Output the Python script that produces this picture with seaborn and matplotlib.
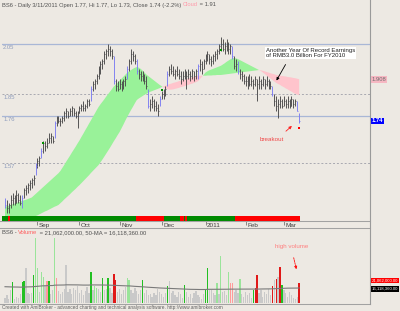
import numpy as np
import pandas as pd
import matplotlib
matplotlib.use("Agg")
import matplotlib.pyplot as plt
import seaborn as sns
from matplotlib.lines import Line2D

# ---------------- data ----------------
dates = pd.bdate_range("2010-08-09", "2011-03-11")  # 155 sessions

highs = [
1.43,1.42,1.41,1.44,1.45,1.44,1.46,1.45,1.44,1.44,
1.47,1.48,1.49,1.50,1.51,1.52,1.57,1.59,1.60,1.63,
1.66,1.66,1.67,1.69,1.69,1.68,1.74,1.76,1.76,1.75,
1.76,1.78,1.79,1.78,1.79,1.80,1.79,1.78,1.78,1.80,
1.81,1.82,1.81,1.83,1.83,1.88,1.90,1.91,1.93,1.96,
1.98,1.99,2.02,2.03,2.05,2.04,2.03,2.00,1.91,1.90,
1.91,1.90,1.91,1.92,1.96,1.99,2.03,2.02,2.01,1.99,
1.95,1.94,1.94,1.93,1.92,1.87,1.83,1.84,1.83,1.82,
1.81,1.84,1.86,1.87,1.88,1.94,1.96,1.97,1.96,1.95,
1.96,1.95,1.94,1.94,1.95,1.94,1.95,1.94,1.95,1.94,
1.95,1.97,1.99,1.98,1.99,2.01,2.02,2.01,2.00,2.01,
2.02,2.03,2.05,2.08,2.07,2.06,2.07,2.06,2.05,2.04,
2.00,1.99,1.98,1.95,1.94,1.93,1.92,1.92,1.93,1.92,
1.91,1.92,1.91,1.92,1.91,1.92,1.91,1.92,1.91,1.90,
1.88,1.85,1.84,1.83,1.84,1.83,1.84,1.83,1.84,1.83,
1.84,1.83,1.83,1.82,1.77]
lows = [
1.39,1.37,1.37,1.39,1.40,1.40,1.41,1.41,1.40,1.39,
1.43,1.44,1.45,1.46,1.47,1.48,1.52,1.55,1.56,1.59,
1.61,1.62,1.63,1.65,1.65,1.65,1.67,1.72,1.73,1.72,
1.73,1.74,1.75,1.75,1.76,1.76,1.76,1.75,1.71,1.77,
1.78,1.78,1.78,1.79,1.80,1.82,1.86,1.87,1.89,1.91,
1.93,1.95,1.97,1.99,2.00,2.00,1.99,1.89,1.86,1.86,
1.87,1.86,1.87,1.88,1.91,1.94,1.97,1.98,1.97,1.93,
1.91,1.90,1.90,1.89,1.87,1.79,1.78,1.79,1.78,1.78,
1.76,1.80,1.83,1.83,1.84,1.88,1.92,1.93,1.92,1.91,
1.92,1.91,1.89,1.90,1.91,1.87,1.91,1.90,1.91,1.90,
1.91,1.91,1.94,1.93,1.95,1.97,1.98,1.97,1.96,1.97,
1.98,1.99,2.01,2.02,2.02,2.01,2.02,2.01,2.01,1.99,
1.95,1.94,1.93,1.91,1.90,1.89,1.88,1.87,1.88,1.88,
1.87,1.88,1.82,1.87,1.87,1.88,1.87,1.88,1.87,1.87,
1.84,1.80,1.78,1.75,1.79,1.79,1.80,1.79,1.79,1.79,
1.80,1.79,1.80,1.78,1.73]
closes = [
1.40,1.39,1.40,1.42,1.43,1.41,1.44,1.42,1.41,1.43,
1.46,1.47,1.48,1.49,1.50,1.51,1.56,1.58,1.59,1.62,
1.65,1.64,1.65,1.67,1.68,1.66,1.73,1.75,1.74,1.74,
1.75,1.77,1.78,1.76,1.78,1.79,1.77,1.76,1.77,1.79,
1.80,1.79,1.80,1.82,1.81,1.87,1.89,1.90,1.92,1.95,
1.97,1.98,2.01,2.02,2.03,2.02,2.00,1.90,1.88,1.87,
1.89,1.88,1.90,1.91,1.95,1.98,2.01,2.00,1.98,1.94,
1.93,1.92,1.91,1.90,1.88,1.80,1.81,1.82,1.80,1.79,
1.78,1.83,1.85,1.86,1.87,1.93,1.95,1.94,1.93,1.94,
1.93,1.92,1.91,1.92,1.93,1.92,1.93,1.92,1.94,1.92,
1.94,1.96,1.97,1.95,1.98,2.00,2.01,1.99,1.98,2.00,
2.01,2.02,2.04,2.05,2.03,2.04,2.05,2.03,2.04,2.00,
1.96,1.97,1.94,1.93,1.92,1.90,1.90,1.91,1.89,1.90,
1.89,1.91,1.89,1.90,1.89,1.91,1.89,1.90,1.89,1.88,
1.85,1.82,1.80,1.81,1.82,1.80,1.82,1.81,1.82,1.80,
1.83,1.81,1.82,1.78,1.74]
blue_bars = [0, 9, 16, 19, 26, 45, 57, 64, 69, 75, 81, 85, 101, 119, 122, 140, 153, 154]

cloud_fast = [
1.393,1.396,1.398,1.401,1.404,1.406,1.409,1.412,1.414,1.417,1.420,1.422,1.425,1.428,1.431,
1.438,1.445,1.452,1.459,1.466,1.473,1.480,1.487,1.494,1.501,1.508,1.515,1.522,1.529,
1.538,1.550,1.562,1.575,1.587,1.599,1.612,1.624,1.636,1.649,1.661,
1.675,1.688,1.702,1.715,1.729,1.742,1.756,1.769,1.783,1.796,
1.807,1.817,1.827,1.838,1.848,1.858,1.868,1.879,
1.886,1.894,1.902,1.910,1.918,1.926,1.934,
1.940,1.945,1.950,1.954,1.957,
1.955,1.950,1.943,1.935,1.927,
1.921,1.915,1.909,1.903,1.897,1.891,1.885,
1.880,1.875,1.871,1.868,
1.866,1.866,1.867,1.869,1.871,1.873,1.876,1.878,1.880,1.883,1.885,1.888,1.890,1.893,1.896,1.900,
1.908,1.917,1.926,1.935,
1.940,1.944,1.947,1.950,1.953,1.956,1.959,1.962,
1.967,1.972,1.978,1.983,1.988,1.992,
1.993,1.992,1.989,1.985,1.981,1.977,
1.973,1.969,1.965,1.961,1.957,1.953,1.949,1.945,1.941,
1.935,1.929,1.923,1.917,1.911,1.905,1.899,1.893,
1.889,1.885,1.880,1.876,1.871,1.867,1.862,1.858,1.853,1.849,1.846,1.844]
cloud_slow = [
1.330,1.331,1.333,1.334,1.335,1.336,1.338,1.339,1.340,1.341,1.343,1.344,1.345,1.346,1.348,
1.352,1.356,1.359,1.363,1.367,1.371,1.375,1.378,1.382,1.386,1.390,1.394,1.397,1.401,
1.408,1.415,1.423,1.430,1.437,1.444,1.452,1.459,1.466,1.474,1.481,
1.489,1.497,1.505,1.513,1.521,1.530,1.538,1.546,1.554,1.562,
1.573,1.584,1.596,1.608,1.620,1.632,
1.645,1.658,1.670,1.683,1.695,
1.710,1.725,1.741,1.756,
1.770,1.784,1.797,1.811,1.824,
1.830,1.835,1.840,1.845,1.849,1.853,1.857,
1.860,1.863,1.866,1.869,1.872,
1.876,1.879,1.882,1.885,
1.888,1.890,1.893,1.895,1.897,1.900,1.902,1.904,1.906,1.909,1.911,1.913,1.915,1.918,1.920,1.922,
1.922,1.922,1.922,1.922,1.923,1.923,1.923,1.924,1.924,1.925,1.925,1.925,
1.926,1.927,1.928,1.929,1.930,1.931,1.932,1.933,1.934,1.935,1.936,1.937,1.938,1.939,1.940,1.941,1.942,1.943,1.944,1.945,
1.944,1.942,1.940,1.937,1.935,1.932,1.930,1.928,1.925,
1.924,1.923,1.921,1.920,1.919,1.917,1.916,1.915,1.913,1.912,1.910,1.908]

# trend ribbon: (state, number of bars)
ribbon_runs = [("G", 2), ("R", 1), ("G", 66), ("R", 15), ("G", 8), ("R", 2),
               ("G", 1), ("R", 1), ("G", 25), ("R", 34)]

green_dot_idx = [20, 82, 113]
green_dot_val = [1.650, 1.865, 2.025]
red_dot_idx = [154]
red_dot_val = [1.711]

volume_m = [
5.5,7.8,4.4,14.4,22.2,4.4,6.6,5.5,8.9,22.2,
23.3,37.7,10.0,8.9,10.0,31.0,72.0,37.7,11.1,34.3,
28.8,18.8,23.3,23.3,8.9,13.3,72.0,27.7,12.2,8.9,
11.1,15.5,41.0,11.1,15.5,8.9,16.6,13.3,18.8,10.0,
14.4,7.8,12.2,17.7,10.0,34.3,13.3,18.8,16.6,15.5,
11.1,26.6,13.3,15.5,26.6,16.6,10.0,32.1,24.4,11.1,
15.5,8.9,13.3,17.7,27.7,24.4,13.3,10.0,16.6,12.2,
8.9,14.4,24.4,10.0,13.3,7.8,8.9,6.6,10.0,7.8,
15.5,11.1,8.9,6.6,10.0,18.8,23.3,10.0,12.2,7.8,
6.6,11.1,8.9,5.5,19.9,11.1,6.6,8.9,5.5,10.0,
12.2,7.8,6.6,4.4,8.9,14.4,37.7,13.3,13.3,10.0,
7.8,21.1,8.9,51.0,11.1,12.2,7.8,34.3,21.1,21.1,
11.1,13.3,10.0,25.5,8.9,6.6,11.1,7.8,10.0,5.5,
14.4,16.6,31.0,10.0,13.3,6.6,11.1,8.9,15.5,7.8,
18.8,24.4,25.5,28.8,38.8,19.9,13.3,10.0,6.6,11.1,
7.8,5.5,4.4,6.6,21.062]
vol_green = [4, 9, 10, 15, 23, 45, 51, 54, 72, 85, 94, 105, 106, 130, 145]
vol_lightgreen = [16, 17, 19, 20, 26, 47, 48, 64, 65, 111, 113, 117, 123]
vol_lightred = [22, 27, 118, 119]
vol_red = [57, 58, 131, 132, 140, 142, 144, 154]

vol_ma50 = [
17.5,17.4,17.3,17.3,17.2,17.2,17.1,17.1,17.0,17.1,17.2,17.3,17.3,17.3,17.4,17.6,17.9,18.1,18.2,18.4,18.5,18.6,18.7,18.8,18.8,18.8,19.2,19.3,
19.3,19.3,19.4,19.4,19.6,19.6,19.6,19.5,19.5,19.5,19.5,19.4,19.4,19.3,19.3,19.3,19.3,19.5,19.5,19.5,19.5,19.4,19.4,19.4,19.3,19.3,19.3,19.2,19.1,19.0,19.0,18.9,18.8,
18.6,18.5,18.4,18.4,18.4,18.2,18.1,17.9,17.8,17.6,17.5,17.4,17.2,17.0,16.9,16.8,
16.6,16.5,16.4,16.2,16.1,16.0,15.9,15.8,15.7,15.6,15.5,15.3,15.2,15.1,15.0,14.9,14.8,
14.8,14.7,14.7,14.6,14.6,14.5,14.5,14.4,14.4,14.4,14.3,14.4,14.6,14.6,14.5,14.5,14.5,14.6,14.6,14.7,14.7,14.6,14.7,14.8,14.8,14.8,14.7,14.7,14.7,14.8,14.8,14.7,14.7,14.7,14.7,14.8,14.8,14.9,14.9,14.9,15.0,
15.0,15.0,15.1,15.1,15.1,15.2,15.3,15.4,15.5,15.7,15.8,15.8,15.8,15.9,15.9,15.9,16.0,16.0,16.0,16.118]

levels_solid = [2.05, 1.76]
levels_dashed = [1.85, 1.57]

# ---------------- style ----------------
BG = "#EDE9E3"
plt.rcParams["font.family"] = ["Liberation Sans", "DejaVu Sans"]
W, H = 400, 311
fig = plt.figure(figsize=(W / 100, H / 100), dpi=100, facecolor=BG)

def frac_box(x0, y0, x1, y1):
    return [x0 / W, 1 - y1 / H, (x1 - x0) / W, (y1 - y0) / H]

n = len(closes)
idx = np.arange(n)
XL = (-1.57, 191.1)

# ---------------- price pane ----------------
ax = fig.add_axes(frac_box(2, 0, 370, 215.5))
ax.set_facecolor(BG)
ax.set_xlim(*XL)
ax.set_ylim(2.05 - 171.5 / 248, 2.05 + 44 / 248)
for s in ax.spines.values():
    s.set_visible(False)
ax.set_xticks([]); ax.set_yticks([])

fast = np.array(cloud_fast); slow = np.array(cloud_slow)
ax.fill_between(idx, fast, slow, where=fast >= slow, interpolate=True,
                color="#99F299", lw=0, zorder=1)
ax.fill_between(idx, fast, slow, where=fast < slow, interpolate=True,
                color="#FFC4CC", lw=0, zorder=1)

for lv in levels_solid:
    ax.axhline(lv, color="#A9B7D6", lw=0.9, zorder=0.5)
for lv in levels_dashed:
    ax.axhline(lv, color="#A8A8B0", lw=0.7, ls=(0, (2, 2)), zorder=0.5)
for lv in levels_solid + levels_dashed:
    ax.annotate(f"{lv:.2f}", xy=(0.003, lv), xycoords=("axes fraction", "data"),
                xytext=(0, -1), textcoords="offset points", va="top", ha="left",
                fontsize=4.2, color="#8E9CBC")

bar_colors = ["#7C7CF2" if i in blue_bars else "#4A4A4A" for i in idx]
ax.vlines(idx, lows, highs, colors=bar_colors, lw=0.65, zorder=3)
ax.hlines(closes, idx, idx + 0.5, colors=bar_colors, lw=0.55, zorder=3)

sns.scatterplot(x=green_dot_idx, y=green_dot_val, color="#009000", marker="s",
                s=3, linewidth=0, ax=ax, zorder=4)
sns.scatterplot(x=red_dot_idx, y=red_dot_val, color="#FF0000", marker="s",
                s=3, linewidth=0, ax=ax, zorder=4)

# right-axis value labels
ax.text(1.004, cloud_slow[-1], f"{cloud_slow[-1]:.3f}", transform=ax.get_yaxis_transform(),
        fontsize=4.2, color="#6E6E6E", va="center", ha="left", clip_on=False,
        bbox=dict(boxstyle="square,pad=0.15", fc="#F6B7C2", ec="none"))
ax.text(1.004, closes[-1], f"{closes[-1]:.2f}", transform=ax.get_yaxis_transform(),
        fontsize=4.2, color="white", fontweight="bold", va="center", ha="left", clip_on=False,
        bbox=dict(boxstyle="square,pad=0.15", fc="#0000FF", ec="none"))

# annotations
ax.text(136.6, 2.034, "Another Year Of Record Earnings\nof RMB3.0 Billion For FY2010",
        fontsize=4.3, color="#222222", va="top", ha="left", linespacing=1.05, zorder=5,
        bbox=dict(boxstyle="square,pad=0.2", fc="white", ec="none"))
ax.annotate("", xy=(141.4, 1.893), xytext=(147.6, 1.977),
            arrowprops=dict(arrowstyle="-|>", color="black", lw=0.6, mutation_scale=4), zorder=5)
ax.text(139.8, 1.663, "breakout", fontsize=4.5, color="#F04848", ha="center", va="center")
ax.annotate("", xy=(151.3, 1.727), xytext=(146.0, 1.691),
            arrowprops=dict(arrowstyle="-|>", color="#FF2020", lw=0.6, mutation_scale=4))

# ---------------- trend ribbon ----------------
axr = fig.add_axes(frac_box(2, 215.5, 370, 220.5))
axr.set_xlim(*XL); axr.set_ylim(0, 1)
axr.axis("off")
rib = []
for state, cnt in ribbon_runs:
    rib += [state] * cnt
rib_col = ["#008A00" if s == "G" else "#FF0000" for s in rib]
axr.bar(idx, 1, width=1.05, color=rib_col, linewidth=0)
axr.bar([-1], 1, width=1.2, color=rib_col[0], linewidth=0)

# ---------------- date strip ----------------
axd = fig.add_axes(frac_box(2, 221, 370, 227.5))
axd.set_xlim(*XL); axd.set_ylim(0, 1)
axd.axis("off")
months = pd.Series(dates.month)
starts = [i for i in range(1, n) if months[i] != months[i - 1]]
for i in starts:
    d = dates[i]
    lab = str(d.year) if d.month == 1 else d.strftime("%b")
    axd.vlines(i, 0.45, 0.95, color="#606060", lw=0.5)
    axd.text(i + 0.8, 0.35, lab, fontsize=4.6, color="#404040", va="center", ha="left")

# ---------------- volume pane ----------------
axv = fig.add_axes(frac_box(2, 228, 370, 302.5))
axv.set_facecolor(BG)
for s in axv.spines.values():
    s.set_visible(False)
pal = {"g": "#22C022", "G": "#9AE49A", "r": "#E01818", "R": "#FF9A9A", "n": "#C9C9C9"}
vcol = []
for i in idx:
    if i in vol_green: vcol.append(pal["g"])
    elif i in vol_lightgreen: vcol.append(pal["G"])
    elif i in vol_red: vcol.append(pal["r"])
    elif i in vol_lightred: vcol.append(pal["R"])
    else: vcol.append(pal["n"])
axv.bar(idx, volume_m, width=0.68, color=vcol, linewidth=0)
sns.lineplot(x=idx, y=vol_ma50, color="#7A7A7A", lw=0.8, ax=axv)
axv.set_xlim(*XL); axv.set_ylim(0, 74.5 * 1.108)
axv.set_xticks([]); axv.set_yticks([])
axv.set_xlabel(""); axv.set_ylabel("")

axv.text(150.3, 61.5, "high volume", fontsize=4.5, color="#FF8080", ha="center", va="center")
axv.annotate("", xy=(152.9, 33.8), xytext=(150.8, 52.6),
             arrowprops=dict(arrowstyle="-|>", color="#FF1010", lw=0.6, ls=(0, (2, 1)),
                             mutation_scale=4))

axv.text(1.004, 24.3, "21,062,000.00", transform=axv.get_yaxis_transform(),
         fontsize=3.1, color="white", va="center", ha="left", clip_on=False,
         bbox=dict(boxstyle="square,pad=0.2", fc="#FF0000", ec="none"))
axv.text(1.004, vol_ma50[-1] - 1.0, "16,118,360.00", transform=axv.get_yaxis_transform(),
         fontsize=3.1, color="white", va="center", ha="left", clip_on=False,
         bbox=dict(boxstyle="square,pad=0.2", fc="#000000", ec="none"))

# ---------------- frame lines ----------------
def hline_px(y, x0=0, x1=370, c="#A2A2A2"):
    fig.add_artist(Line2D([x0 / W, x1 / W], [1 - y / H, 1 - y / H], color=c, lw=0.75))
hline_px(221.2)
hline_px(227.6)
hline_px(304)
fig.add_artist(Line2D([370 / W, 370 / W], [1, 1 - 304 / H], color="#9A9A9A", lw=0.8))

# ---------------- titles ----------------
renderer = fig.canvas.get_renderer()
def multi_text(x_px, y_px, parts, fs):
    x = x_px / W
    for s, c in parts:
        t = fig.text(x, 1 - y_px / H, s, fontsize=fs, color=c, va="center", ha="left")
        bb = t.get_window_extent(renderer=renderer)
        x += bb.width / fig.bbox.width

multi_text(2, 5, [("BS6 - Daily 3/11/2011 Open 1.77, Hi 1.77, Lo 1.73, Close 1.74 (-2.2%) ", "#505050"),
                  ("Cloud", "#FF9AAA"), (" = 1.91", "#505050")], 4.15)
multi_text(2, 233, [("BS6 - ", "#505050"), ("Volume", "#FF6060"),
                    (" = 21,062,000.00, 50-MA = 16,118,360.00", "#505050")], 4.25)
fig.text(2 / W, 1 - 307.5 / H,
         "Created with AmiBroker - advanced charting and technical analysis software. http://www.amibroker.com",
         fontsize=3.4, color="#606060", va="center", ha="left")

fig.savefig("out.png", dpi=100, facecolor=BG)
